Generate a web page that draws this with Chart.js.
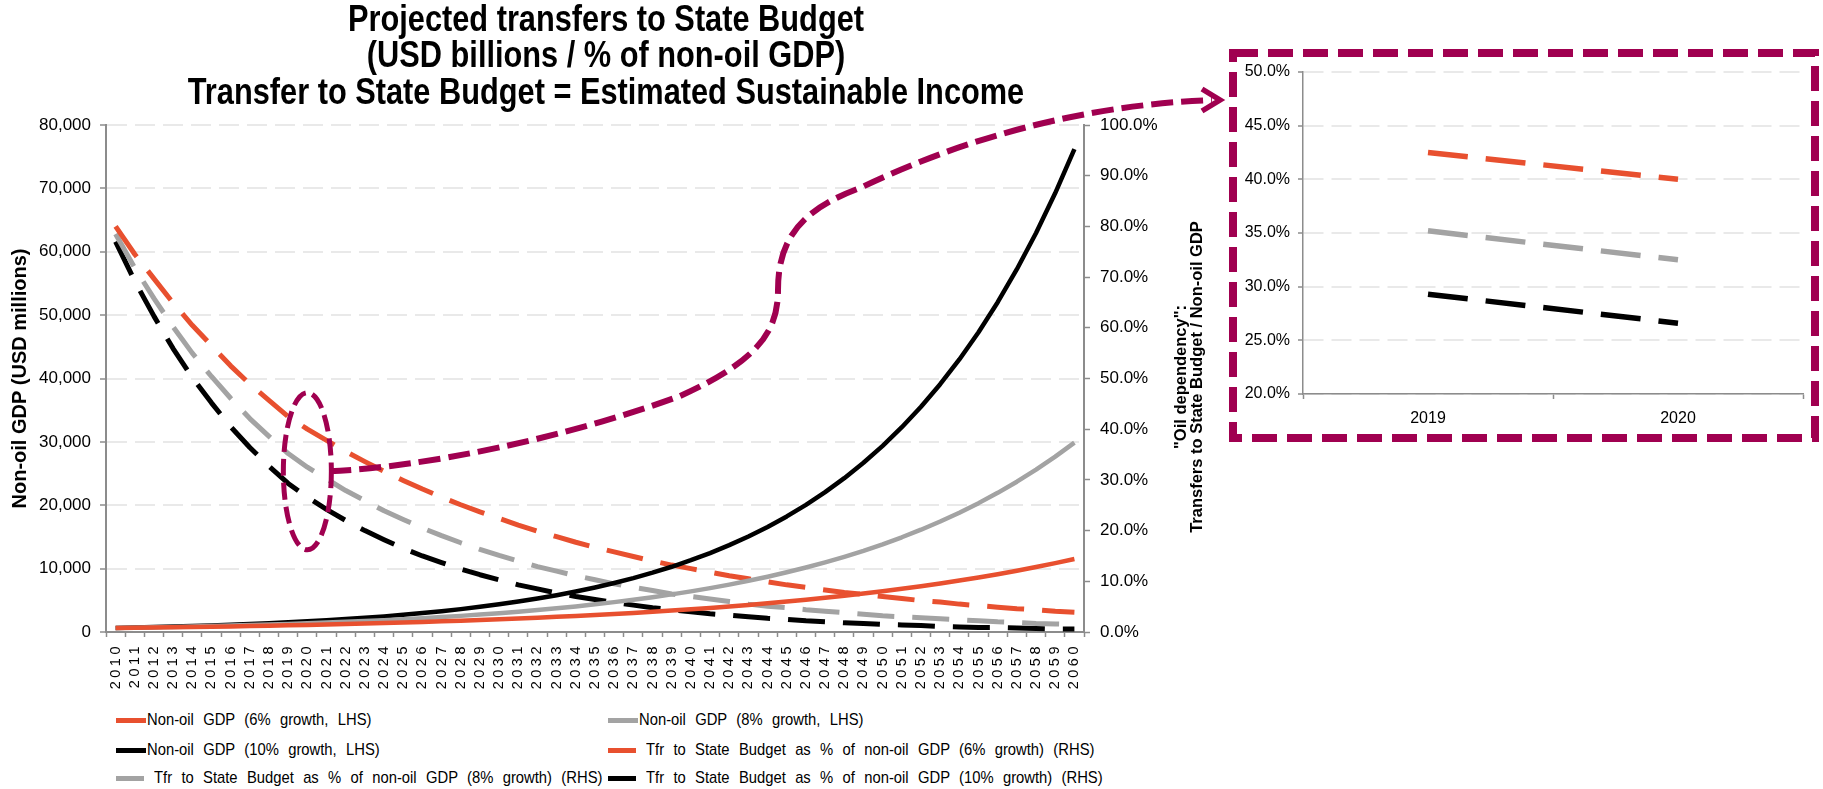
<!DOCTYPE html>
<html>
<head>
<meta charset="utf-8">
<title>Projected transfers to State Budget</title>
<script src="https://cdn.jsdelivr.net/npm/chart.js@4.4.1/dist/chart.umd.min.js"></script>
<style>
  body { margin: 0; background: #fff; font-family: "Liberation Sans", Arial, sans-serif; color: #000; }
  #page { position: relative; width: 1823px; height: 789px; overflow: hidden; }
  #mainChart { position: absolute; left: 0; top: 0; }
  #insetChart { position: absolute; left: 1220px; top: 40px; }
  #overlay { position: absolute; left: 0; top: 0; pointer-events: none; }
  /* Narrow bold heading: regular face squeezed horizontally */
  #heading {
    position: absolute; left: 0; top: 0; width: 1212px; text-align: center;
    font-size: 37.5px; font-weight: bold; line-height: 36.3px; white-space: nowrap;
    transform: scaleX(0.82); transform-origin: 606px 0;
  }
  #rhsTitle {
    position: absolute; left: 1008px; top: 361px; width: 360px;
    font-size: 16.5px; font-weight: bold; line-height: 16px; text-align: center;
    transform: rotate(-90deg); transform-origin: 50% 50%; white-space: nowrap;
  }
  .legend-item { position: absolute; height: 20px; display: flex; align-items: center; white-space: nowrap; }
  .legend-item .swatch { display: inline-block; height: 5px; flex: none; }
  .legend-item .label {
    display: inline-block; font-size: 17px; word-spacing: 6px;
    transform: scaleX(0.87); transform-origin: 0 50%;
  }
</style>
</head>
<body>
<div id="page">
  <canvas id="mainChart" width="1212" height="700"></canvas>
  <div id="heading">Projected transfers to State Budget<br>(USD billions / % of non-oil GDP)<br>Transfer to State Budget = Estimated Sustainable Income</div>
  <canvas id="insetChart" width="600" height="420"></canvas>
  <div id="rhsTitle">"Oil dependency":<br>Transfers to State Budget / Non-oil GDP</div>
  <div id="legend"></div>
  <canvas id="overlay" width="1823" height="789"></canvas>
</div>
<script>
// Years on the x axis
const years = ['2010', '2011', '2012', '2013', '2014', '2015', '2016', '2017', '2018', '2019',
  '2020', '2021', '2022', '2023', '2024', '2025', '2026', '2027', '2028', '2029',
  '2030', '2031', '2032', '2033', '2034', '2035', '2036', '2037', '2038', '2039',
  '2040', '2041', '2042', '2043', '2044', '2045', '2046', '2047', '2048', '2049',
  '2050', '2051', '2052', '2053', '2054', '2055', '2056', '2057', '2058', '2059', '2060'];

// Non-oil GDP, USD millions (LHS)
const gdp6 = [625, 663, 702, 744, 789, 836, 887, 940, 996, 1056,
  1119, 1186, 1258, 1333, 1413, 1498, 1588, 1683, 1784, 1891,
  2004, 2125, 2252, 2387, 2531, 2682, 2843, 3014, 3195, 3387,
  3590, 3805, 4033, 4275, 4532, 4804, 5092, 5398, 5721, 6065,
  6429, 6814, 7223, 7657, 8116, 8603, 9119, 9666, 10246, 10861, 11513];
const gdp8 = [637, 688, 743, 802, 867, 936, 1011, 1092, 1179, 1273,
  1375, 1485, 1604, 1732, 1871, 2021, 2182, 2357, 2545, 2749,
  2969, 3207, 3463, 3740, 4039, 4362, 4712, 5088, 5495, 5935,
  6410, 6923, 7477, 8075, 8721, 9418, 10172, 10985, 11864, 12813,
  13838, 14946, 16141, 17432, 18827, 20333, 21960, 23717, 25614, 27663, 29876];
const gdp10 = [649, 714, 785, 864, 950, 1045, 1150, 1265, 1391, 1530,
  1683, 1852, 2037, 2241, 2465, 2711, 2982, 3280, 3608, 3969,
  4366, 4803, 5283, 5811, 6392, 7032, 7735, 8508, 9359, 10295,
  11325, 12457, 13703, 15073, 16580, 18238, 20062, 22069, 24275, 26703,
  29373, 32311, 35542, 39096, 43005, 47306, 52037, 57240, 62964, 69261, 76187];

// Transfer to State Budget as % of non-oil GDP (RHS)
const tfr6 = [80.0, 74.5, 69.7, 64.9, 60.5, 56.5, 52.5, 48.9, 45.7, 42.5,
  40.0, 37.8, 35.6, 33.6, 31.7, 29.9, 28.2, 26.6, 25.1, 23.7,
  22.4, 21.1, 19.9, 18.8, 17.7, 16.7, 15.8, 14.9, 14.0, 13.2,
  12.5, 11.8, 11.1, 10.5, 9.9, 9.3, 8.8, 8.3, 7.8, 7.4,
  7.0, 6.6, 6.2, 5.9, 5.5, 5.2, 4.9, 4.6, 4.4, 4.1, 3.9];
const tfr8 = [78.5, 71.8, 65.8, 60.2, 55.0, 50.4, 46.1, 42.1, 38.6, 35.2,
  32.5, 30.2, 27.9, 25.9, 23.9, 22.2, 20.5, 19.0, 17.6, 16.3,
  15.1, 14.0, 12.9, 12.0, 11.1, 10.3, 9.5, 8.8, 8.2, 7.5,
  7.0, 6.5, 6.0, 5.5, 5.1, 4.8, 4.4, 4.1, 3.8, 3.5,
  3.2, 3.0, 2.8, 2.6, 2.4, 2.2, 2.0, 1.9, 1.7, 1.6, 1.5];
const tfr10 = [77.0, 69.2, 62.3, 55.9, 50.2, 45.2, 40.5, 36.4, 32.7, 29.3,
  26.6, 24.2, 22.0, 20.0, 18.2, 16.5, 15.0, 13.7, 12.4, 11.3,
  10.3, 9.3, 8.5, 7.7, 7.0, 6.4, 5.8, 5.3, 4.8, 4.4,
  4.0, 3.6, 3.3, 3.0, 2.7, 2.5, 2.2, 2.0, 1.8, 1.7,
  1.5, 1.4, 1.3, 1.1, 1.0, 0.9, 0.9, 0.8, 0.7, 0.6, 0.6];

// Zoomed panel: the two years circled on the main chart
const zoomYears = ['2019', '2020'];
// % band enclosed by the ring on the main chart
const ringRange = [16.2, 47.2];

const ORANGE = '#E8502F';
const GREY = '#A3A3A3';
const BLACK = '#000000';
const ACCENT = '#A00050';
const AXIS = '#8C8C8C';
const GRID = '#E9E9E9';

Chart.defaults.font.family = '"Liberation Sans", Arial, sans-serif';
Chart.defaults.color = '#000';

const solid = (label, data, color) => ({
  label, data, yAxisID: 'y', borderColor: color, backgroundColor: color,
  borderWidth: 4.5, pointRadius: 0, borderJoinStyle: 'round', fill: false
});
const dashed = (label, data, color, width, dash) => ({
  label, data, yAxisID: 'y1', borderColor: color, backgroundColor: color,
  borderWidth: width, borderDash: dash, pointRadius: 0, borderJoinStyle: 'round', fill: false
});

const mainSets = [
  solid('Non-oil GDP (6% growth, LHS)', gdp6, ORANGE),
  solid('Non-oil GDP (8% growth, LHS)', gdp8, GREY),
  solid('Non-oil GDP (10% growth, LHS)', gdp10, BLACK),
  dashed('Tfr to State Budget as % of non-oil GDP (6% growth) (RHS)', tfr6, ORANGE, 5, [37, 18]),
  dashed('Tfr to State Budget as % of non-oil GDP (8% growth) (RHS)', tfr8, GREY, 5, [37, 18]),
  dashed('Tfr to State Budget as % of non-oil GDP (10% growth) (RHS)', tfr10, BLACK, 5, [37, 18])
];

// Year labels are drawn letter-spaced
const spacedYears = {
  id: 'spacedYears',
  beforeDraw(chart) {
    const sc = chart.scales.x;
    if (sc._spaced) return;
    const orig = sc.drawLabels.bind(sc);
    sc.drawLabels = area => {
      chart.ctx.save();
      chart.ctx.letterSpacing = '3.5px';
      orig(area);
      chart.ctx.restore();
    };
    sc._spaced = true;
  }
};

// Callouts: ring round 2020, connector, frame round the zoomed panel
function drawCallouts(chart) {
  const o = document.getElementById('overlay').getContext('2d');
  o.clearRect(0, 0, 1823, 789);
  o.strokeStyle = ACCENT;
  o.lineCap = 'butt';

  const cx = chart.scales.x.getPixelForValue(years.indexOf('2020'));
  const top = chart.scales.y1.getPixelForValue(ringRange[1]);
  const bot = chart.scales.y1.getPixelForValue(ringRange[0]);
  const cy = (top + bot) / 2;

  o.lineWidth = 5;
  o.setLineDash([17, 7]);
  o.beginPath();
  o.ellipse(cx, cy, 24, (bot - top) / 2, 0, 0, Math.PI * 2);
  o.stroke();

  o.lineWidth = 6;
  o.setLineDash([22, 8]);
  o.beginPath();
  o.moveTo(cx + 22, cy);
  o.bezierCurveTo(420, cy - 4, 560, 440, 680, 396);
  o.bezierCurveTo(760, 360, 778, 330, 778, 290);
  o.bezierCurveTo(778, 240, 800, 210, 860, 188);
  o.bezierCurveTo(960, 140, 1080, 105, 1212, 100);
  o.stroke();

  o.setLineDash([]);
  o.lineWidth = 5.5;
  o.beginPath();
  o.moveTo(1202, 89);
  o.lineTo(1220, 100);
  o.lineTo(1202, 111);
  o.stroke();

  o.lineWidth = 8;
  o.setLineDash([25, 10]);
  o.strokeRect(1233, 53, 582, 385);
}

new Chart(document.getElementById('mainChart'), {
  type: 'line',
  data: { labels: years, datasets: mainSets },
  options: {
    responsive: false,
    animation: false,
    layout: { padding: { top: 125, left: 0, right: 0, bottom: 0 } },
    plugins: {
      legend: { display: false },
      tooltip: { enabled: false },
      title: { display: false }
    },
    scales: {
      x: {
        type: 'category',
        offset: true,
        grid: { display: true, offset: true, drawOnChartArea: false, drawTicks: true, tickLength: 5, tickColor: AXIS, tickWidth: 1.5 },
        border: { display: true, color: AXIS, width: 2 },
        ticks: { autoSkip: false, maxRotation: 90, minRotation: 90, padding: 6, font: { size: 14.5 }, color: '#000' },
        afterFit: s => { s.height = 68; }
      },
      y: {
        position: 'left',
        min: 0, max: 80000,
        ticks: { stepSize: 10000, padding: 9, font: { size: 17 }, color: '#000' },
        grid: { color: GRID, lineWidth: 2, tickColor: AXIS, tickLength: 6, tickWidth: 1.5 },
        border: { display: true, color: AXIS, width: 2, dash: [20, 8] },
        title: { display: true, text: 'Non-oil GDP (USD millions)', font: { size: 20, weight: 'bold' }, color: '#000', padding: { top: 8, bottom: 0 } },
        afterFit: s => { s.width = 106; }
      },
      y1: {
        position: 'right',
        min: 0, max: 100,
        ticks: { stepSize: 10, padding: 10, font: { size: 17 }, color: '#000', callback: v => v.toFixed(1) + '%' },
        grid: { drawOnChartArea: false, tickColor: AXIS, tickLength: 6, tickWidth: 1.5 },
        border: { display: true, color: AXIS, width: 2 },
        afterFit: s => { s.width = 128; }
      }
    }
  },
  plugins: [spacedYears, { id: 'callouts', afterDraw: drawCallouts }]
});

// Zoomed view of 2019-2020, same series
const i0 = years.indexOf(zoomYears[0]);
const i1 = years.indexOf(zoomYears[1]) + 1;
new Chart(document.getElementById('insetChart'), {
  type: 'line',
  data: {
    labels: zoomYears,
    datasets: [
      dashed('6%', tfr6.slice(i0, i1), ORANGE, 5.5, [40, 18]),
      dashed('8%', tfr8.slice(i0, i1), GREY, 5.5, [40, 18]),
      dashed('10%', tfr10.slice(i0, i1), BLACK, 5.5, [40, 18])
    ].map(d => ({ ...d, yAxisID: 'y' }))
  },
  options: {
    responsive: false,
    animation: false,
    layout: { padding: { top: 32, right: 17, left: 0, bottom: 0 } },
    plugins: { legend: { display: false }, tooltip: { enabled: false } },
    scales: {
      x: {
        offset: true,
        grid: { offset: true, drawOnChartArea: false, tickLength: 5, tickColor: AXIS, tickWidth: 1.5 },
        border: { display: true, color: AXIS, width: 1.5 },
        ticks: { padding: 10, font: { size: 16 }, color: '#000' },
        afterFit: s => { s.height = 66; }
      },
      y: {
        min: 20, max: 50,
        ticks: { stepSize: 5, padding: 8, font: { size: 16 }, color: '#000', callback: v => v.toFixed(1) + '%' },
        grid: { color: GRID, lineWidth: 2, tickColor: AXIS, tickLength: 5, tickWidth: 1.5 },
        border: { display: true, color: AXIS, width: 1.5, dash: [20, 8] },
        afterFit: s => { s.width = 83; }
      }
    }
  }
});

// Legend in two columns, built from the series styles
const legendCols = [116, 608];
const legendRows = [720, 750, 778];
const legendBox = document.getElementById('legend');
mainSets.forEach((ds, i) => {
  const rhs = ds.yAxisID === 'y1';
  const item = document.createElement('div');
  item.className = 'legend-item';
  item.style.left = legendCols[i % 2] + 'px';
  item.style.top = (legendRows[Math.floor(i / 2)] - 10) + 'px';
  const sw = document.createElement('span');
  sw.className = 'swatch';
  sw.style.width = (rhs ? 28 : 30) + 'px';
  sw.style.marginRight = (rhs ? 10 : 1) + 'px';
  sw.style.background = ds.borderColor;
  const txt = document.createElement('span');
  txt.className = 'label';
  txt.textContent = ds.label;
  item.appendChild(sw);
  item.appendChild(txt);
  legendBox.appendChild(item);
});
</script>
</body>
</html>
